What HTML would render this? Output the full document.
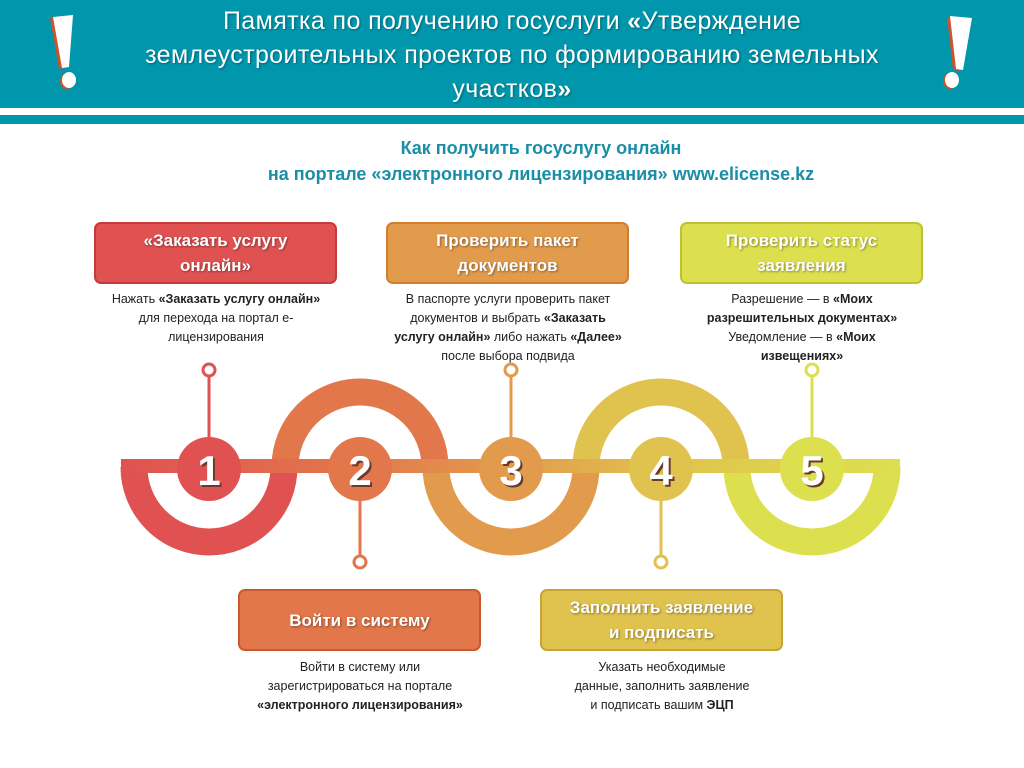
<!DOCTYPE html>
<html><head><meta charset="utf-8">
<style>
body{margin:0;width:1024px;height:768px;background:#fff;position:relative;overflow:hidden;font-family:"Liberation Sans","DejaVu Sans",sans-serif;}
.hdr{position:absolute;left:0;top:0;width:1024px;height:108px;background:#0097ad;}
.hdr2{position:absolute;left:0;top:115px;width:1024px;height:9px;background:#0097ad;}
.title{position:absolute;left:0;width:1024px;top:4px;text-align:center;color:#fff;font-size:25px;line-height:34px;letter-spacing:0.4px;white-space:nowrap;text-shadow:1px 1px 2px rgba(0,0,0,.35);}
.sub{position:absolute;left:0;width:1082px;top:135px;text-align:center;color:#1a8ea6;font-weight:bold;font-size:18px;line-height:26px;}
.box{position:absolute;width:239px;height:58px;border-radius:7px;border:2px solid;color:#fff;font-weight:bold;font-size:17px;line-height:25px;text-align:center;display:flex;align-items:center;justify-content:center;text-shadow:1px 1px 2px rgba(0,0,0,.4);box-sizing:content-box;}
.txt{position:absolute;width:270px;text-align:center;color:#222;font-size:12.5px;line-height:19px;}
</style></head><body>
<div class="hdr"></div><div class="hdr2"></div>
<div class="title">Памятка по получению госуслуги <b>«</b>Утверждение<br>землеустроительных проектов по формированию земельных<br>участков<b>»</b></div>
<div class="sub">Как получить госуслугу онлайн<br>на портале «электронного лицензирования» www.elicense.kz</div>

<div class="box" style="left:94px;top:222px;background:#e05252;border-color:#c43a3c">«Заказать услугу<br>онлайн»</div>
<div class="box" style="left:386px;top:222px;background:#e29b4d;border-color:#d07e2e">Проверить пакет<br>документов</div>
<div class="box" style="left:680px;top:222px;background:#dde04e;border-color:#bcc232">Проверить статус<br>заявления</div>
<div class="box" style="left:238px;top:589px;background:#e2774b;border-color:#c95a30">Войти в систему</div>
<div class="box" style="left:540px;top:589px;background:#e0c24e;border-color:#c6a534">Заполнить заявление<br>и подписать</div>

<div class="txt" style="left:81px;top:290px">Нажать <b>«Заказать услугу онлайн»</b><br>для перехода на портал е-<br>лицензирования</div>
<div class="txt" style="left:373px;top:290px">В паспорте услуги проверить пакет<br>документов и выбрать <b>«Заказать<br>услугу онлайн»</b> либо нажать <b>«Далее»</b><br>после выбора подвида</div>
<div class="txt" style="left:667px;top:290px">Разрешение — в <b>«Моих<br>разрешительных документах»</b><br>Уведомление — в <b>«Моих<br>извещениях»</b></div>
<div class="txt" style="left:225px;top:658px">Войти в систему или<br>зарегистрироваться на портале<br><b>«электронного лицензирования»</b></div>
<div class="txt" style="left:527px;top:658px">Указать необходимые<br>данные, заполнить заявление<br>и подписать вашим <b>ЭЦП</b></div>

<svg style="position:absolute;left:0;top:0" width="1024" height="768">
<defs><linearGradient id="g" x1="121" x2="900" gradientUnits="userSpaceOnUse">
<stop offset="0" stop-color="#e05252"/><stop offset="0.3" stop-color="#e2774b"/><stop offset="0.5" stop-color="#e29b4d"/><stop offset="0.7" stop-color="#e0c24e"/><stop offset="1" stop-color="#dde04e"/></linearGradient></defs>
<polygon points="50,18 70,16 66,68 59,69" fill="#c8552e"/>
<polygon points="53,17 73,15 69,67 62,68" fill="#fff"/>
<ellipse cx="67" cy="81" rx="7" ry="8" fill="#c8552e"/>
<ellipse cx="69" cy="80" rx="7" ry="8" fill="#fff"/>
<polygon points="947,17 969,19 960,71 953,70" fill="#c8552e"/>
<polygon points="950,16 972,18 963,70 956,69" fill="#fff"/>
<ellipse cx="950" cy="81" rx="7" ry="8" fill="#c8552e"/>
<ellipse cx="952" cy="80" rx="7" ry="8" fill="#fff"/>
<g fill="none" stroke-width="27">
<path d="M134 467 A75 75 0 0 0 284 467" stroke="#e05252"/>
<path d="M285 467 A75 75 0 0 1 435 467" stroke="#e2774b"/>
<path d="M436 467 A75 75 0 0 0 586 467" stroke="#e29b4d"/>
<path d="M586 467 A75 75 0 0 1 736 467" stroke="#e0c24e"/>
<path d="M737 467 A75 75 0 0 0 887 467" stroke="#dde04e"/>
</g>
<rect x="121" y="459" width="779" height="14" fill="url(#g)"/>
<g stroke-width="3" fill="#fff">
<line x1="209" y1="376" x2="209" y2="440" stroke="#e05252"/><circle cx="209" cy="370" r="6" stroke="#e05252"/>
<line x1="511" y1="376" x2="511" y2="440" stroke="#e29b4d"/><circle cx="511" cy="370" r="6" stroke="#e29b4d"/>
<line x1="812" y1="376" x2="812" y2="440" stroke="#dde04e"/><circle cx="812" cy="370" r="6" stroke="#dde04e"/>
<line x1="360" y1="500" x2="360" y2="556" stroke="#e2774b"/><circle cx="360" cy="562" r="6" stroke="#e2774b"/>
<line x1="661" y1="500" x2="661" y2="556" stroke="#e0c24e"/><circle cx="661" cy="562" r="6" stroke="#e0c24e"/>
</g>
<circle cx="209" cy="469" r="32" fill="#e05252"/>
<circle cx="360" cy="469" r="32" fill="#e2774b"/>
<circle cx="511" cy="469" r="32" fill="#e29b4d"/>
<circle cx="661" cy="469" r="32" fill="#e0c24e"/>
<circle cx="812" cy="469" r="32" fill="#dde04e"/>
<g font-family="Liberation Sans, sans-serif" font-weight="bold" font-size="42" fill="#fff" text-anchor="middle">
<text x="211" y="487" fill="#6a3a2a">1</text><text x="209" y="485">1</text>
<text x="362" y="487" fill="#6a3a2a">2</text><text x="360" y="485">2</text>
<text x="513" y="487" fill="#6a3a2a">3</text><text x="511" y="485">3</text>
<text x="663" y="487" fill="#6a3a2a">4</text><text x="661" y="485">4</text>
<text x="814" y="487" fill="#6a3a2a">5</text><text x="812" y="485">5</text>
</g>
</svg>
</body></html>
